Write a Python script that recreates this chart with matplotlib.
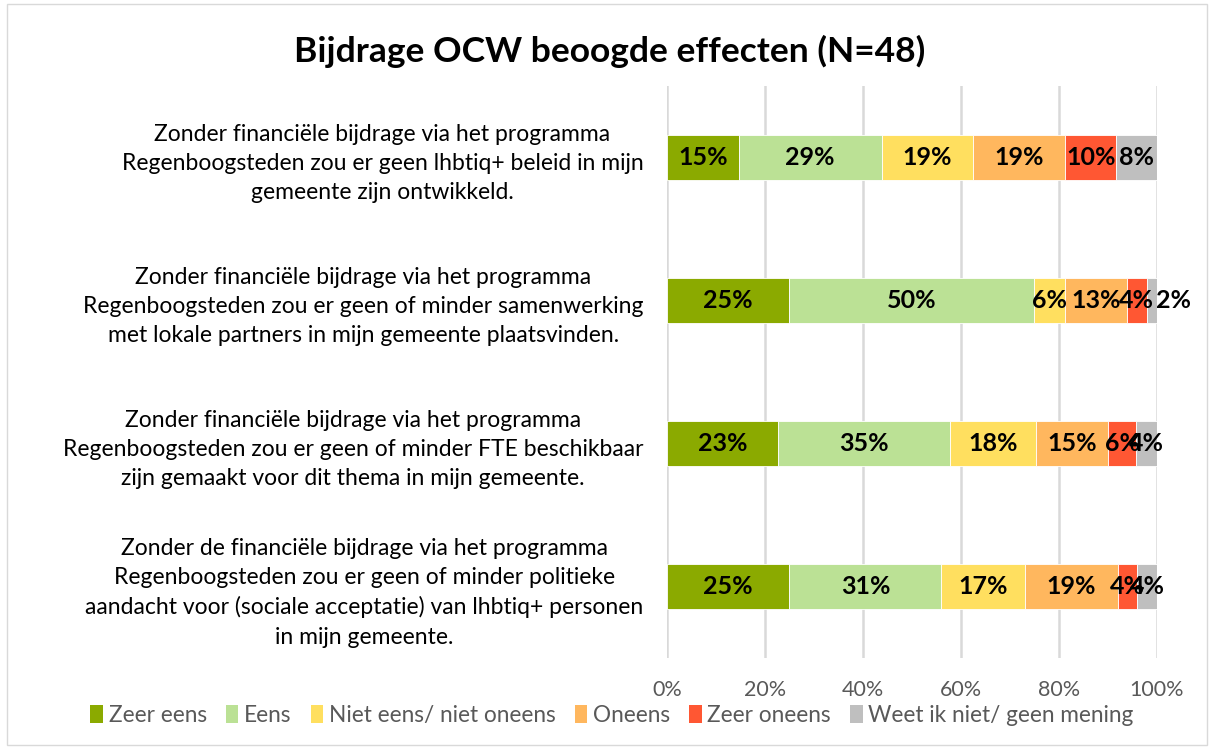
import matplotlib
matplotlib.use("Agg")
import matplotlib.pyplot as plt
from matplotlib.patches import Patch, Rectangle
import numpy as np

plt.rcParams['font.family'] = ['Lato', 'DejaVu Sans']

title = "Bijdrage OCW beoogde effecten (N=48)"
categories = [
    "Zonder financiële bijdrage via het programma\nRegenboogsteden zou er geen lhbtiq+ beleid in mijn\ngemeente zijn ontwikkeld.",
    "Zonder financiële bijdrage via het programma\nRegenboogsteden zou er geen of minder samenwerking\nmet lokale partners in mijn gemeente plaatsvinden.",
    "Zonder financiële bijdrage via het programma\nRegenboogsteden zou er geen of minder FTE beschikbaar\nzijn gemaakt voor dit thema in mijn gemeente.",
    "Zonder de financiële bijdrage via het programma\nRegenboogsteden zou er geen of minder politieke\naandacht voor (sociale acceptatie) van lhbtiq+ personen\nin mijn gemeente.",
]
series_names = ["Zeer eens", "Eens", "Niet eens/ niet oneens", "Oneens", "Zeer oneens",
                "Weet ik niet/ geen mening"]
zeer_eens = [14.6, 25.0, 22.6, 25.0]
eens = [29.2, 50.0, 35.2, 31.0]
niet_eens = [18.75, 6.2, 17.6, 17.0]
oneens = [18.75, 12.6, 14.6, 19.0]
zeer_oneens = [10.4, 4.2, 5.8, 4.0]
weet_niet = [8.3, 2.0, 4.2, 4.0]
colors = ["#8BAA00", "#BBE195", "#FFDF5F", "#FFB75E", "#FF5733", "#BFBFBF"]
xticks = [0, 20, 40, 60, 80, 100]

series = [zeer_eens, eens, niet_eens, oneens, zeer_oneens, weet_niet]

fig = plt.figure(figsize=(12.12, 7.49), dpi=100)
ax = fig.add_axes([0.5503, 0.1215, 0.4043, 0.7637])

y = np.arange(len(categories))
left = np.zeros(len(categories))
for si, (vals, col, name) in enumerate(zip(series, colors, series_names)):
    vals = np.array(vals)
    ax.barh(y, vals, left=left, height=0.315, color=col, label=name,
            edgecolor='white', linewidth=0.6, zorder=3)
    for yi, l, v in zip(y, left, vals):
        lab = f"{int(np.floor(v + 0.5))}%"
        if si == len(series) - 1 and v < 3:
            ax.text(l + v - 0.3, yi, lab, ha='left', va='center',
                    fontsize=18, fontweight='bold', color='black', zorder=4)
        else:
            ax.text(l + v / 2, yi, lab, ha='center', va='center',
                    fontsize=18, fontweight='bold', color='black', zorder=4)
    left += vals

ax.set_ylim(len(categories) - 0.5, -0.5)
ax.set_xlim(0, 100)
ax.set_xticks(xticks)
ax.set_xticklabels([f"{t}%" for t in xticks], fontsize=15.5, color='#595959')
ax.set_yticks(y)
ax.set_yticklabels(categories, fontsize=16.5, color='black', multialignment='center',
                   linespacing=1.48)
ax.tick_params(axis='y', length=0, pad=17)
ax.tick_params(axis='x', length=0, pad=16)
ax.grid(axis='x', color='#D9D9D9', linewidth=1.8, zorder=0)
for s in ax.spines.values():
    s.set_visible(False)

fig.text(0.503, 0.931, title, ha='center', va='center', fontsize=25.5, fontweight='bold')

handles = [Patch(facecolor=c, label=n) for c, n in zip(colors, series_names)]
fig.legend(handles=handles, loc='center', bbox_to_anchor=(0.505, 0.045), ncol=6,
           frameon=False, fontsize=16.3, handlelength=0.55, handleheight=0.9,
           handletextpad=0.25, columnspacing=0.85, labelcolor='#595959')

fig.patches.append(Rectangle((0.006, 0.005), 0.99, 0.99, transform=fig.transFigure,
                             fill=False, edgecolor='#D9D9D9', linewidth=1))

fig.savefig("out.png", dpi=100)
